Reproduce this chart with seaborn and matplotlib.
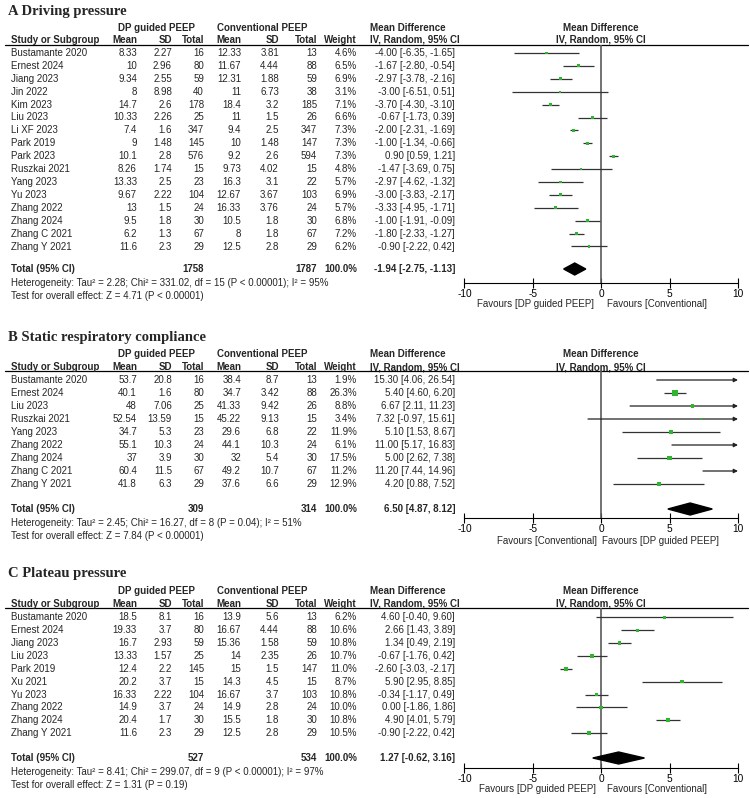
import numpy as np
import pandas as pd
import seaborn as sns
import matplotlib.pyplot as plt

# --- DATA : A Driving pressure ---
studies_a = ["Bustamante 2020", "Ernest 2024", "Jiang 2023", "Jin 2022", "Kim 2023", "Liu 2023",
             "Li XF 2023", "Park 2019", "Park 2023", "Ruszkai 2021", "Yang 2023", "Yu 2023",
             "Zhang 2022", "Zhang 2024", "Zhang C 2021", "Zhang Y 2021"]
dp_mean_a = [8.33, 10, 9.34, 8, 14.7, 10.33, 7.4, 9, 10.1, 8.26, 13.33, 9.67, 13, 9.5, 6.2, 11.6]
dp_sd_a = [2.27, 2.96, 2.55, 8.98, 2.6, 2.26, 1.6, 1.48, 2.8, 1.74, 2.5, 2.22, 1.5, 1.8, 1.3, 2.3]
dp_n_a = [16, 80, 59, 40, 178, 25, 347, 145, 576, 15, 23, 104, 24, 30, 67, 29]
cv_mean_a = [12.33, 11.67, 12.31, 11, 18.4, 11, 9.4, 10, 9.2, 9.73, 16.3, 12.67, 16.33, 10.5, 8, 12.5]
cv_sd_a = [3.81, 4.44, 1.88, 6.73, 3.2, 1.5, 2.5, 1.48, 2.6, 4.02, 3.1, 3.67, 3.76, 1.8, 1.8, 2.8]
cv_n_a = [13, 88, 59, 38, 185, 26, 347, 147, 594, 15, 22, 103, 24, 30, 67, 29]
weight_a = [4.6, 6.5, 6.9, 3.1, 7.1, 6.6, 7.3, 7.3, 7.3, 4.8, 5.7, 6.9, 5.7, 6.8, 7.2, 6.2]
md_a = [-4.00, -1.67, -2.97, -3.00, -3.70, -0.67, -2.00, -1.00, 0.90, -1.47, -2.97, -3.00, -3.33, -1.00, -1.80, -0.90]
lo_a = [-6.35, -2.80, -3.78, -6.51, -4.30, -1.73, -2.31, -1.34, 0.59, -3.69, -4.62, -3.83, -4.95, -1.91, -2.33, -2.22]
hi_a = [-1.65, -0.54, -2.16, 0.51, -3.10, 0.39, -1.69, -0.66, 1.21, 0.75, -1.32, -2.17, -1.71, -0.09, -1.27, 0.42]
total_a = (1758, 1787, -1.94, -2.75, -1.13)
het_a = "Heterogeneity: Tau\u00b2 = 2.28; Chi\u00b2 = 331.02, df = 15 (P < 0.00001); I\u00b2 = 95%"
test_a = "Test for overall effect: Z = 4.71 (P < 0.00001)"

# --- DATA : B Static respiratory compliance ---
studies_b = ["Bustamante 2020", "Ernest 2024", "Liu 2023", "Ruszkai 2021", "Yang 2023",
             "Zhang 2022", "Zhang 2024", "Zhang C 2021", "Zhang Y 2021"]
dp_mean_b = [53.7, 40.1, 48, 52.54, 34.7, 55.1, 37, 60.4, 41.8]
dp_sd_b = [20.8, 1.6, 7.06, 13.59, 5.3, 10.3, 3.9, 11.5, 6.3]
dp_n_b = [16, 80, 25, 15, 23, 24, 30, 67, 29]
cv_mean_b = [38.4, 34.7, 41.33, 45.22, 29.6, 44.1, 32, 49.2, 37.6]
cv_sd_b = [8.7, 3.42, 9.42, 9.13, 6.8, 10.3, 5.4, 10.7, 6.6]
cv_n_b = [13, 88, 26, 15, 22, 24, 30, 67, 29]
weight_b = [1.9, 26.3, 8.8, 3.4, 11.9, 6.1, 17.5, 11.2, 12.9]
md_b = [15.30, 5.40, 6.67, 7.32, 5.10, 11.00, 5.00, 11.20, 4.20]
lo_b = [4.06, 4.60, 2.11, -0.97, 1.53, 5.17, 2.62, 7.44, 0.88]
hi_b = [26.54, 6.20, 11.23, 15.61, 8.67, 16.83, 7.38, 14.96, 7.52]
total_b = (309, 314, 6.50, 4.87, 8.12)
het_b = "Heterogeneity: Tau\u00b2 = 2.45; Chi\u00b2 = 16.27, df = 8 (P = 0.04); I\u00b2 = 51%"
test_b = "Test for overall effect: Z = 7.84 (P < 0.00001)"

# --- DATA : C Plateau pressure ---
studies_c = ["Bustamante 2020", "Ernest 2024", "Jiang 2023", "Liu 2023", "Park 2019", "Xu 2021",
             "Yu 2023", "Zhang 2022", "Zhang 2024", "Zhang Y 2021"]
dp_mean_c = [18.5, 19.33, 16.7, 13.33, 12.4, 20.2, 16.33, 14.9, 20.4, 11.6]
dp_sd_c = [8.1, 3.7, 2.93, 1.57, 2.2, 3.7, 2.22, 3.7, 1.7, 2.3]
dp_n_c = [16, 80, 59, 25, 145, 15, 104, 24, 30, 29]
cv_mean_c = [13.9, 16.67, 15.36, 14, 15, 14.3, 16.67, 14.9, 15.5, 12.5]
cv_sd_c = [5.6, 4.44, 1.58, 2.35, 1.5, 4.5, 3.7, 2.8, 1.8, 2.8]
cv_n_c = [13, 88, 59, 26, 147, 15, 103, 24, 30, 29]
weight_c = [6.2, 10.6, 10.8, 10.7, 11.0, 8.7, 10.8, 10.0, 10.8, 10.5]
md_c = [4.60, 2.66, 1.34, -0.67, -2.60, 5.90, -0.34, 0.00, 4.90, -0.90]
lo_c = [-0.40, 1.43, 0.49, -1.76, -3.03, 2.95, -1.17, -1.86, 4.01, -2.22]
hi_c = [9.60, 3.89, 2.19, 0.42, -2.17, 8.85, 0.49, 1.86, 5.79, 0.42]
total_c = (527, 534, 1.27, -0.62, 3.16)
het_c = "Heterogeneity: Tau\u00b2 = 8.41; Chi\u00b2 = 299.07, df = 9 (P < 0.00001); I\u00b2 = 97%"
test_c = "Test for overall effect: Z = 1.31 (P = 0.19)"

fav_dp = "Favours [DP guided PEEP]"
fav_cv = "Favours [Conventional]"
x_ticks = [-10, -5, 0, 5, 10]

# --- STYLE ---
sns.set_style("white")
plt.rcParams['font.family'] = ['Liberation Sans', 'DejaVu Sans']
plt.rcParams['axes.unicode_minus'] = False

W, H = 750, 798
FS = 7.0
GREEN = '#2fb52f'
fig = plt.figure(figsize=(W / 100, H / 100), dpi=100)
bg = fig.add_axes([0, 0, 1, 1])
bg.set_xlim(0, W)
bg.set_ylim(H, 0)
bg.axis('off')

# column x (pixels) and alignment
cols = [(137, 'right'), (172, 'right'), (204, 'right'), (241, 'right'),
        (279, 'right'), (317, 'right'), (357, 'right')]
X_STUDY, X_MD, FX0, FX1 = 11, 455, 464.5, 738


def txt(x, y, s, ha='left', bold=False, size=FS, **kw):
    bg.text(x, y, s, ha=ha, va='center', fontsize=size,
            fontweight='bold' if bold else 'normal', **kw)


def draw_panel(title, df, total, het, test, fav_left, fav_right, lay):
    # title and headers
    txt(8, lay['title'], title, bold=True, size=10.5, family=['Liberation Serif'])
    txt(156, lay['h1'], "DP guided PEEP", ha='center', bold=True)
    txt(262, lay['h1'], "Conventional PEEP", ha='center', bold=True)
    txt(370, lay['h1'], "Mean Difference", bold=True)
    txt(601, lay['h1'], "Mean Difference", ha='center', bold=True)
    txt(X_STUDY, lay['h2'], "Study or Subgroup", bold=True)
    for (x, ha), lab in zip(cols, ["Mean", "SD", "Total", "Mean", "SD", "Total", "Weight"]):
        txt(x, lay['h2'], lab, ha=ha, bold=True)
    txt(370, lay['h2'], "IV, Random, 95% CI", bold=True)
    txt(601, lay['h2'], "IV, Random, 95% CI", ha='center', bold=True)
    bg.plot([5, 748], [lay['line'], lay['line']], color='black', lw=0.9)

    ys = lay['row0'] + lay['step'] * np.arange(len(df))
    df = df.assign(y=ys)

    # table rows
    for _, r in df.iterrows():
        txt(X_STUDY, r.y, r.study)
        vals = ["%g" % r.m1, "%g" % r.sd1, "%d" % r.n1, "%g" % r.m2,
                "%g" % r.sd2, "%d" % r.n2, "%.1f%%" % r.w]
        for (x, ha), v in zip(cols, vals):
            txt(x, r.y, v, ha=ha)
        txt(X_MD, r.y, "%.2f [%.2f, %.2f]" % (r.md, r.lo, r.hi), ha='right')

    n1t, n2t, mdt, lot, hit = total
    txt(X_STUDY, lay['total'], "Total (95% CI)", bold=True)
    txt(204, lay['total'], "%d" % n1t, ha='right', bold=True)
    txt(317, lay['total'], "%d" % n2t, ha='right', bold=True)
    txt(357, lay['total'], "100.0%", ha='right', bold=True)
    txt(X_MD, lay['total'], "%.2f [%.2f, %.2f]" % (mdt, lot, hit), ha='right', bold=True)
    txt(X_STUDY, lay['het'], het)
    txt(X_STUDY, lay['test'], test)

    # forest plot
    ax = fig.add_axes([FX0 / W, 1 - lay['axis'] / H, (FX1 - FX0) / W,
                       (lay['axis'] - lay['line']) / H])
    ax.patch.set_alpha(0)
    ax.axvline(0, color='#5a5a5a', lw=1.2, zorder=1)
    for _, r in df.iterrows():
        lo, hi = max(r.lo, -10), min(r.hi, 10)
        if r.hi > 10:
            ax.annotate('', xy=(10, r.y), xytext=(lo, r.y), annotation_clip=False,
                        arrowprops=dict(arrowstyle='-|>', color='#222222', lw=0.9,
                                        mutation_scale=6, shrinkA=0, shrinkB=0))
        else:
            ax.hlines(r.y, lo, hi, color='#333333', lw=0.9, zorder=2)
    sns.scatterplot(data=df, x='md', y='y', size='w', sizes=(0, 20), size_norm=(0, 30),
                    marker='s', color=GREEN, linewidth=0, legend=False, ax=ax, zorder=3)
    ty, dh = lay['total'], 6
    ax.fill([lot, mdt, hit, mdt], [ty, ty - dh, ty, ty + dh], color='black', zorder=3)

    ax.set_xlim(-10, 10)
    ax.set_ylim(lay['axis'], lay['line'])
    ax.set_xlabel('')
    ax.set_ylabel('')
    ax.set_yticks([])
    ax.set_xticks(x_ticks)
    ax.set_xticklabels([str(t) for t in x_ticks])
    sns.despine(ax=ax, left=True)
    ax.spines['bottom'].set_color('black')
    ax.spines['bottom'].set_linewidth(0.8)
    ax.tick_params(axis='x', bottom=True, direction='inout', length=7, width=0.8,
                   labelsize=7.3, pad=1, colors='black')

    txt(lay['fl'], lay['fav'], fav_left, ha='right', size=7)
    txt(lay['fr'], lay['fav'], fav_right, ha='left', size=7)


def make_df(st, m1, s1, n1, m2, s2, n2, w, md, lo, hi):
    return pd.DataFrame(dict(study=st, m1=m1, sd1=s1, n1=n1, m2=m2, sd2=s2, n2=n2,
                             w=w, md=md, lo=lo, hi=hi))


df_a = make_df(studies_a, dp_mean_a, dp_sd_a, dp_n_a, cv_mean_a, cv_sd_a, cv_n_a, weight_a, md_a, lo_a, hi_a)
df_b = make_df(studies_b, dp_mean_b, dp_sd_b, dp_n_b, cv_mean_b, cv_sd_b, cv_n_b, weight_b, md_b, lo_b, hi_b)
df_c = make_df(studies_c, dp_mean_c, dp_sd_c, dp_n_c, cv_mean_c, cv_sd_c, cv_n_c, weight_c, md_c, lo_c, hi_c)

lay_a = dict(title=12, h1=28, h2=40, line=45, row0=53, step=12.9, total=269,
             het=283, test=296, axis=283, fav=304, fl=594, fr=607)
lay_b = dict(title=337, h1=354, h2=367, line=371, row0=380, step=13, total=509,
             het=523, test=536, axis=518, fav=541, fl=597, fr=602)
lay_c = dict(title=574, h1=591, h2=604, line=608, row0=617.5, step=12.85, total=758,
             het=772, test=785, axis=768, fav=789, fl=596, fr=607)

draw_panel("A Driving pressure", df_a, total_a, het_a, test_a, fav_dp, fav_cv, lay_a)
draw_panel("B Static respiratory compliance", df_b, total_b, het_b, test_b, fav_cv, fav_dp, lay_b)
draw_panel("C Plateau pressure", df_c, total_c, het_c, test_c, fav_dp, fav_cv, lay_c)

plt.savefig('out.png', dpi=100)
